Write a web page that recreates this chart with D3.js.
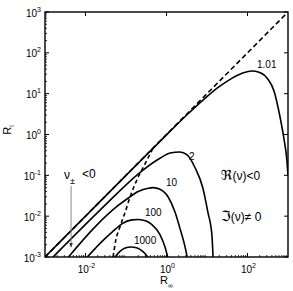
<!DOCTYPE html>
<html>
<head>
<meta charset="utf-8">
<script src="https://cdn.jsdelivr.net/npm/d3@7"></script>
<style>
  body { margin: 0; background: #fff; }
  text { font-family: "Liberation Sans", Arial, sans-serif; fill: #000; }
</style>
</head>
<body>
<div id="chart"></div>
<script>
(function () {
    // values (R_inf, R_i)
    const diagX = [0.001, 1000];
    const diagY = [0.001, 1000];

    const c101X = [0.001, 0.1, 1, 3.16, 10, 20, 40, 79, 126, 200, 316, 447, 631, 794, 933, 1000];
    const c101Y = [0.001, 0.1, 0.98, 3.0, 8.5, 14.8, 23.4, 32.4, 35.9, 33.1, 22.9, 12, 2.8, 0.79, 0.25, 0.1];

    const c2X = [0.00158, 0.0229, 0.263, 0.69, 1.23, 2.14, 3.24, 5.0, 7.9, 10.5, 13.2, 14.1];
    const c2Y = [0.001, 0.0141, 0.135, 0.263, 0.351, 0.372, 0.316, 0.158, 0.049, 0.0126, 0.0035, 0.001];

    const c10X = [0.0038, 0.017, 0.063, 0.112, 0.2, 0.355, 0.468, 0.69, 1.1, 1.62, 2.14, 2.88, 3.24];
    const c10Y = [0.001, 0.0054, 0.018, 0.0275, 0.04, 0.0484, 0.05, 0.0457, 0.0295, 0.0126, 0.0051, 0.00174, 0.001];

    const c100X = [0.011, 0.017, 0.028, 0.0447, 0.079, 0.141, 0.2, 0.316, 0.437, 0.69, 0.91, 1.07];
    const c100Y = [0.001, 0.00158, 0.00263, 0.004, 0.0065, 0.0081, 0.0083, 0.0076, 0.0062, 0.00355, 0.0018, 0.001];

    const c1000X = [0.0537, 0.0708, 0.0955, 0.132, 0.19, 0.263, 0.347];
    const c1000Y = [0.001, 0.00138, 0.00166, 0.00176, 0.00166, 0.00135, 0.001];

    // dashed boundary curve
    const bndX = [0.0479, 0.0562, 0.0708, 0.0955, 0.126, 0.186, 0.295, 0.468];
    const bndY = [0.001, 0.00263, 0.0054, 0.0126, 0.0295, 0.0776, 0.19, 0.468];

    const yTickExp = [-3, -2, -1, 0, 1, 2, 3];
    const xTickExp = [-2, 0, 2];

    const W = 293, H = 291;
    const margin = { top: 12, right: 5, bottom: 34, left: 45 };
    const x0 = margin.left, x1 = W - margin.right;
    const y0 = H - margin.bottom, y1 = margin.top;

    const svg = d3.select("#chart").append("svg")
        .attr("width", W).attr("height", H);

    const xScale = d3.scaleLog().domain([1e-3, 1e3]).range([x0, x1]);
    const yScale = d3.scaleLog().domain([1e-3, 1e3]).range([y0, y1]);

    svg.append("clipPath").attr("id", "plot")
        .append("rect").attr("x", x0).attr("y", y1)
        .attr("width", x1 - x0).attr("height", y0 - y1);

    // minor ticks (left and bottom)
    const minors = [];
    for (let e = -3; e < 3; e++) for (let m = 2; m < 10; m++) minors.push(m * Math.pow(10, e));
    svg.append("g").selectAll("line").data(minors).join("line")
        .attr("x1", x0).attr("x2", x0 + 2)
        .attr("y1", d => yScale(d)).attr("y2", d => yScale(d))
        .attr("stroke", "#000").attr("stroke-width", 0.8);
    svg.append("g").selectAll("line").data(minors).join("line")
        .attr("y1", y0).attr("y2", y0 - 2)
        .attr("x1", d => xScale(d)).attr("x2", d => xScale(d))
        .attr("stroke", "#000").attr("stroke-width", 0.8);

    // major ticks
    const yMaj = svg.append("g");
    yTickExp.forEach(e => {
        const y = yScale(Math.pow(10, e));
        yMaj.append("line").attr("x1", x0).attr("x2", x0 + 4).attr("y1", y).attr("y2", y)
            .attr("stroke", "#000").attr("stroke-width", 1);
        yMaj.append("line").attr("x1", x1).attr("x2", x1 - 4).attr("y1", y).attr("y2", y)
            .attr("stroke", "#000").attr("stroke-width", 1);
        const t = yMaj.append("text").attr("x", x0 - 4).attr("y", y + 4.5)
            .attr("text-anchor", "end").attr("font-size", 10).text("10");
        t.append("tspan").attr("dy", -5).attr("font-size", 7).text(e);
    });
    const xMaj = svg.append("g");
    xTickExp.forEach(e => {
        const x = xScale(Math.pow(10, e));
        xMaj.append("line").attr("x1", x).attr("x2", x).attr("y1", y0).attr("y2", y0 - 4)
            .attr("stroke", "#000").attr("stroke-width", 1);
        xMaj.append("line").attr("x1", x).attr("x2", x).attr("y1", y1).attr("y2", y1 + 4)
            .attr("stroke", "#000").attr("stroke-width", 1);
        const t = xMaj.append("text").attr("x", x + 1).attr("y", y0 + 16)
            .attr("text-anchor", "middle").attr("font-size", 10).text("10");
        t.append("tspan").attr("dy", -5).attr("font-size", 7).text(e);
    });

    // curves
    const line = d3.line()
        .x(d => xScale(d[0])).y(d => yScale(d[1]))
        .curve(d3.curveMonotoneX);
    const zip = (xs, ys) => xs.map((v, i) => [v, ys[i]]);

    const g = svg.append("g").attr("clip-path", "url(#plot)");

    g.append("path").datum(zip(diagX, diagY)).attr("d", line)
        .attr("fill", "none").attr("stroke", "#000").attr("stroke-width", 1.6)
        .attr("stroke-dasharray", "5,3");
    g.append("path").datum(zip(bndX, bndY)).attr("d", line)
        .attr("fill", "none").attr("stroke", "#000").attr("stroke-width", 1.6)
        .attr("stroke-dasharray", "4,3");

    [[c101X, c101Y], [c2X, c2Y], [c10X, c10Y], [c100X, c100Y], [c1000X, c1000Y]].forEach(c => {
        g.append("path").datum(zip(c[0], c[1])).attr("d", line)
            .attr("fill", "none").attr("stroke", "#000").attr("stroke-width", 1.6);
    });

    // frame
    svg.append("rect").attr("x", x0).attr("y", y1)
        .attr("width", x1 - x0).attr("height", y0 - y1)
        .attr("fill", "none").attr("stroke", "#000").attr("stroke-width", 1.4);

    // curve labels
    const lab = (x, y, s) => svg.append("text").attr("x", x).attr("y", y)
        .attr("font-size", 10).text(s);
    lab(257, 68, "1.01");
    lab(189, 160, "2");
    lab(166, 186, "10");
    lab(145, 216, "100");
    lab(134, 244, "1000");

    // region labels
    const re = svg.append("text").attr("x", 221).attr("y", 180).attr("font-size", 12);
    re.append("tspan").attr("font-size", 14).attr("font-family", "DejaVu Serif, DejaVu Sans").text("\u211C");
    re.append("tspan").text("(\u03BD)<0");
    const im = svg.append("text").attr("x", 221).attr("y", 221).attr("font-size", 12);
    im.append("tspan").attr("font-size", 14).attr("font-family", "DejaVu Serif, DejaVu Sans").text("\u2111");
    im.append("tspan").text("(\u03BD)\u2260 0");

    // nu_pm < 0 with arrow
    const nu = svg.append("text").attr("x", 64).attr("y", 179).attr("font-size", 12).text("\u03BD");
    nu.append("tspan").attr("dy", 5).attr("font-size", 9).text("\u00B1");
    nu.append("tspan").attr("x", 82).attr("dy", -6).attr("font-size", 12).text("<0");

    svg.append("defs").append("marker").attr("id", "arr")
        .attr("viewBox", "0 0 10 10").attr("refX", 9).attr("refY", 5)
        .attr("markerWidth", 5).attr("markerHeight", 5).attr("orient", "auto")
        .append("path").attr("d", "M0,1L10,5L0,9Z").attr("fill", "#333");
    svg.append("line")
        .attr("x1", xScale(0.0044)).attr("x2", xScale(0.0044))
        .attr("y1", 186).attr("y2", 247)
        .attr("stroke", "#888").attr("stroke-width", 1)
        .attr("marker-end", "url(#arr)");

    // axis titles
    const rx = svg.append("text").attr("x", (x0 + x1) / 2).attr("y", 284)
        .attr("text-anchor", "middle").attr("font-size", 11).text("R");
    rx.append("tspan").attr("dy", 4).attr("font-size", 7).text("\u221E");

    const ry = svg.append("text").attr("transform", "translate(11,130) rotate(-90)")
        .attr("text-anchor", "middle").attr("font-size", 11).text("R");
    ry.append("tspan").attr("dy", 3).attr("font-size", 7).text("i");
})();
</script>
</body>
</html>
